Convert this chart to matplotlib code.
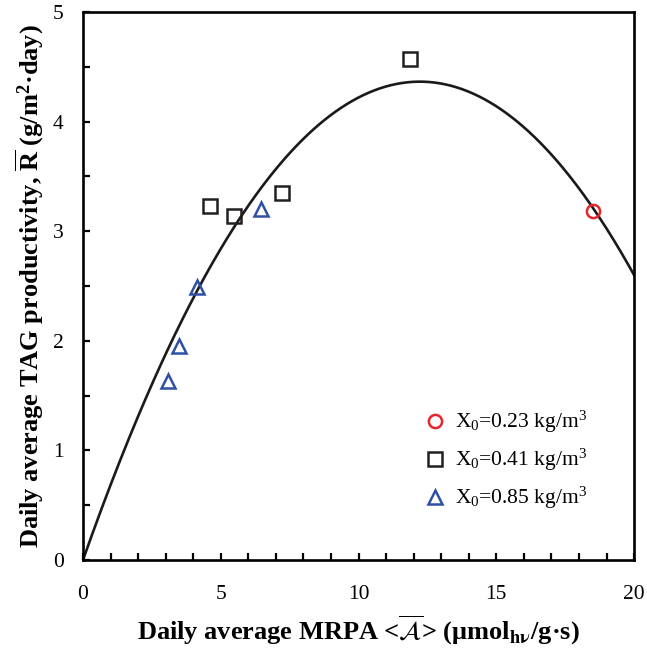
import numpy as np
import matplotlib
matplotlib.use("Agg")
import matplotlib.pyplot as plt
from matplotlib.ticker import MultipleLocator

plt.rcParams['font.family'] = ['Liberation Serif', 'DejaVu Serif']
plt.rcParams['mathtext.fontset'] = 'custom'
plt.rcParams['mathtext.rm'] = 'Liberation Serif'
plt.rcParams['mathtext.it'] = 'Liberation Serif:italic'
plt.rcParams['mathtext.bf'] = 'Liberation Serif:bold'

# Measured daily average productivity vs. MRPA for three initial concentrations
mrpa_023 = [18.5]
prod_023 = [3.18]

mrpa_041 = [4.61, 5.48, 7.22, 11.87]
prod_041 = [3.23, 3.14, 3.35, 4.57]

mrpa_085 = [3.09, 3.48, 4.14, 6.46]
prod_085 = [1.63, 1.95, 2.49, 3.20]

# Quadratic model R = a*A - b*A^2
model_a = 0.714
model_b = 0.0292

labels = [r'X$_0$=0.23 kg/m$^3$', r'X$_0$=0.41 kg/m$^3$', r'X$_0$=0.85 kg/m$^3$']

fig = plt.figure(figsize=(6.47, 6.5), dpi=100)
ax = fig.add_axes([0.1283, 0.1385, 0.8517, 0.843])

A = np.linspace(0, 20, 300)
ax.plot(A, model_a * A - model_b * A**2, color='#1a1a1a', lw=1.9, zorder=2)

ms = 9.5
ax.plot(mrpa_023, prod_023, 'o', ms=ms, mfc='none', mec='#e8232b', mew=1.8,
        label=labels[0], zorder=3)
ax.plot(mrpa_041, prod_041, 's', ms=ms, mfc='none', mec='#231f20', mew=1.8,
        label=labels[1], zorder=3)
ax.plot(mrpa_085, prod_085, '^', ms=ms + 0.5, mfc='none', mec='#2f50a5', mew=1.8,
        label=labels[2], zorder=3)

ax.set_xlim(0, 20)
ax.set_ylim(0, 5)
ax.xaxis.set_major_locator(MultipleLocator(5))
ax.xaxis.set_minor_locator(MultipleLocator(1))
ax.yaxis.set_major_locator(MultipleLocator(1))
ax.yaxis.set_minor_locator(MultipleLocator(0.5))
ax.tick_params(which='both', direction='in', length=5, width=1.6,
               top=False, right=False, labelsize=15.5)
ax.tick_params(axis='x', which='major', pad=18)
ax.tick_params(axis='y', which='major', pad=14)
for sp in ax.spines.values():
    sp.set_linewidth(1.9)

ax.set_xlabel(r'Daily average MRPA <$\overline{\mathcal{A}}$> (μmol$_{\mathbf{h\nu}}$/g·s)',
              fontsize=19, fontweight='bold', labelpad=7, math_fontfamily='stix')
ax.set_ylabel(r'Daily average TAG productivity, $\overline{\mathbf{R}}$ (g/m$^{\mathbf{2}}$·day)',
              fontsize=19, fontweight='bold', labelpad=5)

ax.legend(loc='lower right', bbox_to_anchor=(0.93, 0.073), frameon=False,
          fontsize=15.5, handletextpad=0.3, labelspacing=0.55,
          handlelength=1.2, borderaxespad=0)

fig.savefig('out.png', dpi=100)
